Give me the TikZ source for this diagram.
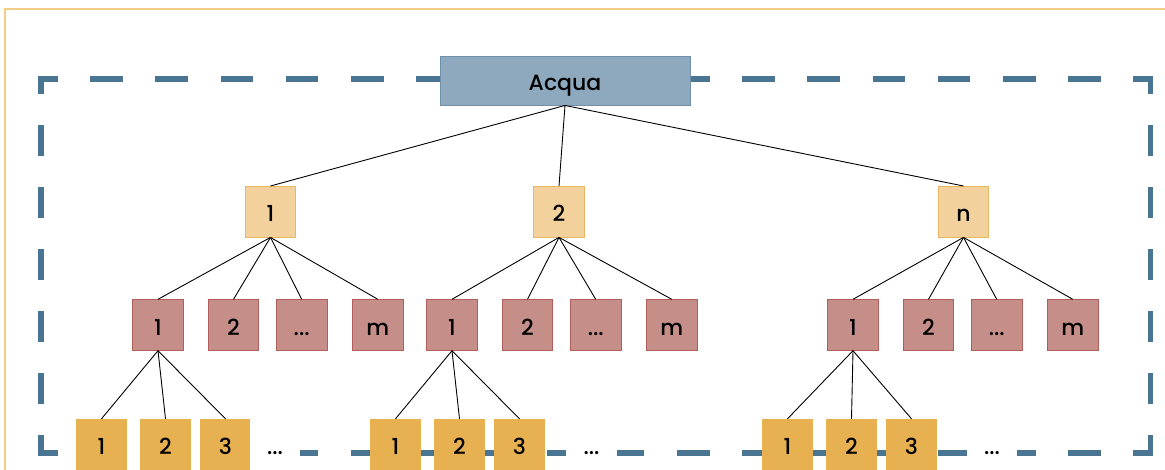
\documentclass[tikz,border=0pt]{standalone}
\usepackage{fontspec}
\setmainfont{Poppins}[UprightFont=* Medium]
\definecolor{frameor}{HTML}{F3CD85}
\definecolor{dashblue}{HTML}{4A7592}
\definecolor{acquafill}{HTML}{8EA9BD}
\definecolor{acquadraw}{HTML}{6F90AA}
\definecolor{lonefill}{HTML}{F2D19D}
\definecolor{lonedraw}{HTML}{E9B763}
\definecolor{ltwofill}{HTML}{C68E89}
\definecolor{ltwodraw}{HTML}{B25F5B}
\definecolor{lthreefill}{HTML}{E7B051}
\tikzset{
  txt/.style={font=\fontsize{22}{22}\selectfont, text height=20pt, text depth=0pt, inner sep=0pt},
  sq/.style={txt, minimum width=50.5pt, minimum height=50.5pt, line width=0.9pt},
  acq/.style={txt, draw=acquadraw, fill=acquafill, minimum width=250pt, minimum height=49pt, line width=0.9pt},
  lone/.style={sq, draw=lonedraw, fill=lonefill},
  ltwo/.style={sq, draw=ltwodraw, fill=ltwofill},
  lthree/.style={sq, draw=lthreefill, fill=lthreefill},
  gapbox/.style={sq, fill=white},
  dashh/.style={draw=dashblue, line width=5.5pt, dash pattern=on 32.5pt off 32.7pt, dash phase=13.25pt},
  dashv/.style={draw=dashblue, line width=5.5pt, dash pattern=on 31pt off 31pt, dash phase=13.25pt},
  edge/.style={draw=black, line width=0.9pt}
}
\begin{document}
\begin{tikzpicture}[x=1pt,y=-1pt]
\useasboundingbox (0,0) rectangle (1165,469);
% outer orange frame
\draw[frameor, line width=1.5pt] (5,480) -- (5,9) -- (1175,9);
% dashed boundary
\draw[dashh] (38.25,79) -- (1153.25,79);
\draw[dashh] (38.25,453) -- (1153.25,453);
\draw[dashv] (41,76.25) -- (41,455.75);
\draw[dashv] (1150.5,76.25) -- (1150.5,455.75);
% root
\node[acq] (r) at (565,80.5) {Acqua};
% level 1
\node[lone] (a) at (270.5,211.7) {1};
\node[lone] (b) at (559,211.7) {2};
\node[lone] (c) at (963.5,211.7) {n};
% level 2
\node[ltwo] (a1) at (158,325) {1};
\node[ltwo] (a2) at (233.5,325) {2};
\node[ltwo] (a3) at (301.7,325) {...};
\node[ltwo] (a4) at (377.8,325) {m};
\node[ltwo] (b1) at (452,325) {1};
\node[ltwo] (b2) at (527.5,325) {2};
\node[ltwo] (b3) at (595.7,325) {...};
\node[ltwo] (b4) at (671.8,325) {m};
\node[ltwo] (c1) at (853,325) {1};
\node[ltwo] (c2) at (928.5,325) {2};
\node[ltwo] (c3) at (996.7,325) {...};
\node[ltwo] (c4) at (1072.8,325) {m};
% level 3
\node[lthree] (a11) at (101.5,444.5) {1};
\node[lthree] (a12) at (165.5,444.5) {2};
\node[lthree] (a13) at (225.5,444.5) {3};
\node[gapbox] (a1d) at (275,444.5) {...};
\node[lthree] (b11) at (395.5,444.5) {1};
\node[lthree] (b12) at (459.5,444.5) {2};
\node[lthree] (b13) at (519.5,444.5) {3};
\node[gapbox] (b1d) at (591.5,444.5) {...};
\node[lthree] (c11) at (787.5,444.5) {1};
\node[lthree] (c12) at (851.5,444.5) {2};
\node[lthree] (c13) at (911.5,444.5) {3};
\node[gapbox] (c1d) at (992,444.5) {...};
% edges
\foreach \t in {a,b,c} \draw[edge] (r.south) -- (\t.north);
\foreach \p in {a,b,c} {
  \foreach \i in {1,2,3,4} \draw[edge] (\p.south) -- (\p\i.north);
  \foreach \j in {1,2,3} \draw[edge] (\p1.south) -- (\p1\j.north);
}
\end{tikzpicture}
\end{document}
